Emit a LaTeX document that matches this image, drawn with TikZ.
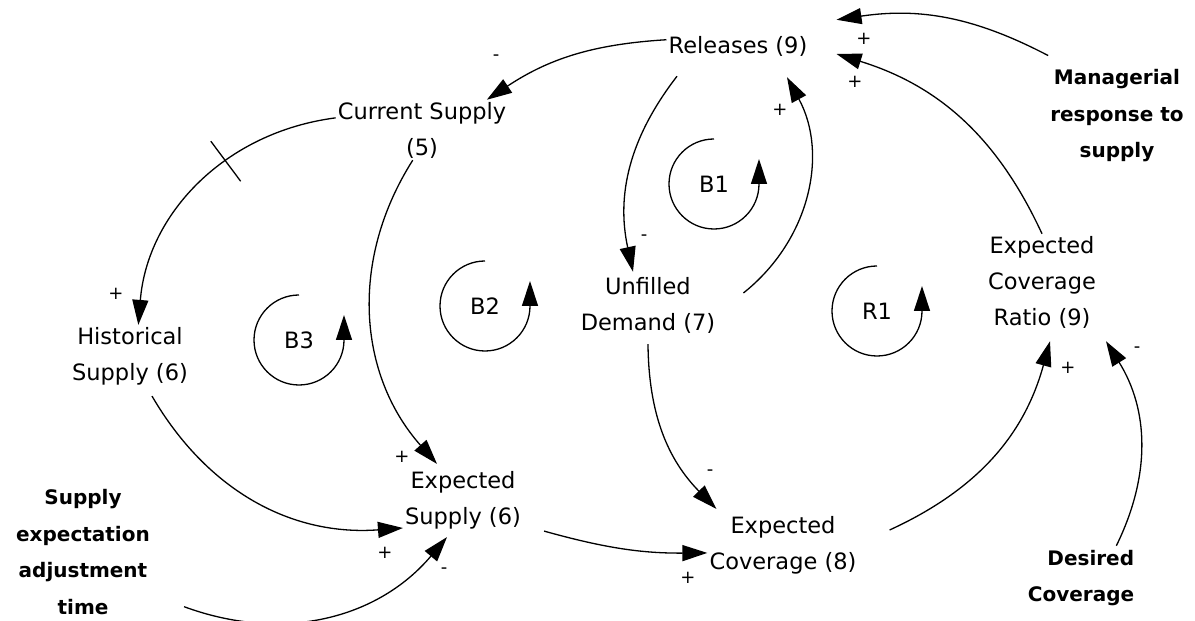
\documentclass[tikz,border=0pt]{standalone}
\usepackage{fontspec}
\setmainfont{DejaVu Sans}
\usetikzlibrary{arrows.meta}

\begin{document}
\begin{tikzpicture}[
  x=1pt, y=1pt,
  var/.style={align=center, inner sep=2pt, font=\fontsize{22.5}{36}\selectfont},
  ext/.style={align=center, inner sep=2pt, font=\fontsize{20}{36.5}\selectfont\bfseries},
  sgn/.style={inner sep=0pt, font=\fontsize{18}{18}\selectfont},
  link/.style={line width=1.3pt, -{Triangle[length=25pt, width=16pt]}},
  delaymark/.style={draw, line width=1.3pt, minimum width=0pt, minimum height=50pt, inner sep=0pt},
]
\useasboundingbox (0,0) rectangle (1195,621);
\node[var] (rel) at (738,575) {Releases (9)};
\node[var] (cs) at (422,491) {Current Supply\\(5)};
\node[var] (hs) at (130,265) {Historical\\Supply (6)};
\node[var] (es) at (463,121) {Expected\\Supply (6)};
\node[var] (ud) at (648,316) {Unfilled\\Demand (7)};
\node[var] (ec) at (783,76) {Expected\\Coverage (8)};
\node[var] (ecr) at (1042,339) {Expected\\Coverage\\Ratio (9)};
\node[ext] (mrs) at (1117,505) {Managerial\\response to\\supply};
\node[ext] (seat) at (83,69) {Supply\\expectation\\adjustment\\time};
\node[ext, align=right] (dc) at (1081,43) {Desired\\Coverage};
\node[var] (b1) at (714,437) {B1};
\node[var] (b2) at (485,315) {B2};
\node[var] (b3) at (299,281) {B3};
\node[var] (r1) at (877,310) {R1};
\draw[link] (rel.175) to[bend right=15] (cs.25);
\draw[link] (cs.172) to[bend right=39] node[delaymark, sloped, pos=.38] (tk) {} (hs.75);
\draw[link] (cs.253) to[bend right=37] ([shift={(-26,5)}]es.north);
\draw[link] ([shift={(22,-9)}]hs.south) to[bend right=32] (es.205);
\draw[link] ([shift={(32,10)}]seat.south east) to[bend right=35] ([shift={(-16,-6)}]es.south);
\draw[link] ([xshift=21]es.south east) to[bend right=8] (ec.186);
\draw[link] ([shift={(-61,-18)}]rel.south) to[bend right=25] ([shift={(-15,3)}]ud.north);
\draw[link] ([shift={(26,12)}]ud.east) to[bend right=40] ([shift={(49,-19)}]rel.south);
\draw[link] (ecr.north) to[bend right=24] ([shift={(27,-8)}]rel.east);
\draw[link] ([yshift=12]mrs.north west) to[bend right=18] ([shift={(27,14)}]rel.north east);
\draw[link] ([shift={(31,15)}]ec.east) to[bend right=25] ([shift={(8,-11)}]ecr.south);
\draw[link] ([shift={(-20,2)}]dc.north east) to[bend right=29] ([shift={(64,-11)}]ecr.south);
\draw[link] ([yshift=-9]ud.south) to[bend right=22] ([shift={(9,5)}]ec.north west);
\draw[link] (b1.center) ++(0,45) arc[start angle=90, end angle=360, radius=45] -- ++(0,25);
\draw[link] (b2.center) ++(0,45) arc[start angle=90, end angle=360, radius=45] -- ++(0,25);
\draw[link] (b3.center) ++(0,45) arc[start angle=90, end angle=360, radius=45] -- ++(0,25);
\draw[link] (r1.center) ++(0,45) arc[start angle=90, end angle=360, radius=45] -- ++(0,25);
\node[sgn] (s1) at (496,563) {-};
\node[sgn] (s2) at (116,327) {+};
\node[sgn] (s3) at (402,164) {+};
\node[sgn] (s4) at (385,68) {+};
\node[sgn] (s5) at (444,50) {-};
\node[sgn] (s6) at (688,43) {+};
\node[sgn] (s7) at (644,383) {-};
\node[sgn] (s8) at (780,511) {+};
\node[sgn] (s9) at (855,539) {+};
\node[sgn] (s10) at (864,582) {+};
\node[sgn] (s11) at (1068,253) {+};
\node[sgn] (s12) at (1137,271) {-};
\node[sgn] (s13) at (710,148) {-};
\end{tikzpicture}
\end{document}
